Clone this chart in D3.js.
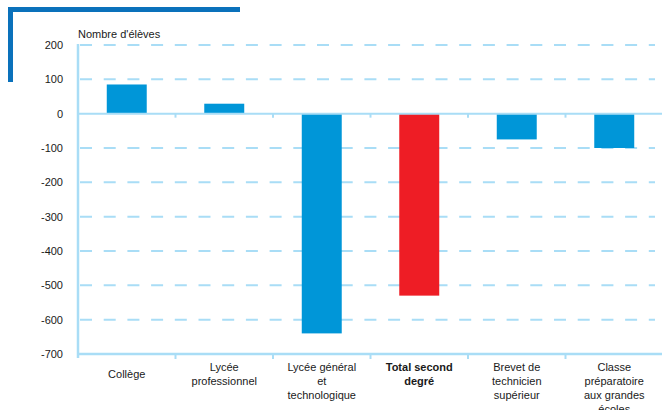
<!DOCTYPE html>
<html>
<head>
<meta charset="utf-8">
<script src="https://cdn.jsdelivr.net/npm/d3@7"></script>
<style>
  body { margin: 0; background: #fff; }
  text { font-family: "Liberation Sans", Arial, sans-serif; fill: #1a1a1a; }
</style>
</head>
<body>
<div id="chart"></div>
<script>
var categories = ['Collège', 'Lycée professionnel', 'Lycée général et technologique',
  'Total second degré', 'Brevet de technicien supérieur', 'Classe préparatoire aux grandes écoles'];
var labelLines = [
  ['Collège'],
  ['Lycée', 'professionnel'],
  ['Lycée général', 'et', 'technologique'],
  ['Total second', 'degré'],
  ['Brevet de', 'technicien', 'supérieur'],
  ['Classe', 'préparatoire', 'aux grandes', 'écoles']
];
var values = [85, 29, -640, -530, -75, -100];
var yTicks = [200, 100, 0, -100, -200, -300, -400, -500, -600, -700];
var totalIndex = 3;

var width = 662, height = 410;
var plotLeft = 78, plotRight = 663, plotTop = 45, plotBottom = 354;
var axisColor = '#a9ddf6';

var svg = d3.select('#chart')
  .append('svg')
  .attr('width', width)
  .attr('height', height);

// decorative frame corner
svg.append('rect').attr('x', 8).attr('y', 7).attr('width', 232).attr('height', 5).attr('fill', '#0a71bb');
svg.append('rect').attr('x', 8).attr('y', 7).attr('width', 5).attr('height', 75).attr('fill', '#0a71bb');

var x = d3.scaleBand()
  .domain(categories)
  .range([plotLeft, plotRight]);

var y = d3.scaleLinear()
  .domain([-700, 200])
  .range([plotBottom, plotTop]);

// dashed gridlines
svg.selectAll('line.grid')
  .data(yTicks.filter(function (d) { return d !== 0 && d !== -700; }))
  .enter()
  .append('line')
  .attr('class', 'grid')
  .attr('x1', plotLeft + 2)
  .attr('x2', 655)
  .attr('y1', function (d) { return y(d); })
  .attr('y2', function (d) { return y(d); })
  .attr('stroke', axisColor)
  .attr('stroke-width', 2)
  .attr('stroke-dasharray', '12,11.7');

// y tick labels
svg.selectAll('text.ytick')
  .data(yTicks)
  .enter()
  .append('text')
  .attr('class', 'ytick')
  .attr('x', 63)
  .attr('y', function (d) { return y(d); })
  .attr('dy', '0.36em')
  .attr('text-anchor', 'end')
  .style('font-size', '11px')
  .text(function (d) { return d; });

svg.append('text')
  .attr('x', 78)
  .attr('y', 38)
  .style('font-size', '11px')
  .text("Nombre d'élèves");

// bars
var barWidth = x.bandwidth() * 0.41;
svg.selectAll('rect.bar')
  .data(values)
  .enter()
  .append('rect')
  .attr('class', 'bar')
  .attr('x', function (d, i) { return x(categories[i]) + (x.bandwidth() - barWidth) / 2; })
  .attr('y', function (d) { return y(Math.max(0, d)); })
  .attr('width', barWidth)
  .attr('height', function (d) { return Math.abs(y(d) - y(0)); })
  .attr('fill', function (d, i) { return i === totalIndex ? '#ee1d25' : '#0096d8'; });

// zero line with small ticks
svg.append('line')
  .attr('x1', plotLeft).attr('x2', width)
  .attr('y1', y(0)).attr('y2', y(0))
  .attr('stroke', axisColor).attr('stroke-width', 2);

var boundaries = categories.slice(1).map(function (c) { return x(c); });
svg.selectAll('line.ztick')
  .data(boundaries)
  .enter()
  .append('line')
  .attr('class', 'ztick')
  .attr('x1', function (d) { return d; })
  .attr('x2', function (d) { return d; })
  .attr('y1', y(0))
  .attr('y2', y(0) + 4)
  .attr('stroke', axisColor).attr('stroke-width', 2);

// y axis line
svg.append('line')
  .attr('x1', plotLeft).attr('x2', plotLeft)
  .attr('y1', plotTop - 1).attr('y2', plotBottom + 4)
  .attr('stroke', axisColor).attr('stroke-width', 2.5);

// bottom axis
svg.append('line')
  .attr('x1', plotLeft).attr('x2', width)
  .attr('y1', plotBottom).attr('y2', plotBottom)
  .attr('stroke', axisColor).attr('stroke-width', 2.5);

svg.selectAll('line.btick')
  .data(boundaries)
  .enter()
  .append('line')
  .attr('class', 'btick')
  .attr('x1', function (d) { return d; })
  .attr('x2', function (d) { return d; })
  .attr('y1', plotBottom)
  .attr('y2', plotBottom + 5)
  .attr('stroke', axisColor).attr('stroke-width', 2);

// category labels
var labels = svg.selectAll('text.cat')
  .data(labelLines)
  .enter()
  .append('text')
  .attr('class', 'cat')
  .attr('text-anchor', 'middle')
  .attr('y', function (d) { return d.length === 1 ? 378 : 371; })
  .style('font-size', '11px')
  .style('font-weight', function (d, i) { return i === totalIndex ? 'bold' : 'normal'; });

labels.each(function (lines, i) {
  var cx = x(categories[i]) + x.bandwidth() / 2;
  d3.select(this).selectAll('tspan')
    .data(lines)
    .enter()
    .append('tspan')
    .attr('x', cx)
    .attr('dy', function (d, j) { return j === 0 ? 0 : 14; })
    .text(function (d) { return d; });
});
</script>
</body>
</html>
